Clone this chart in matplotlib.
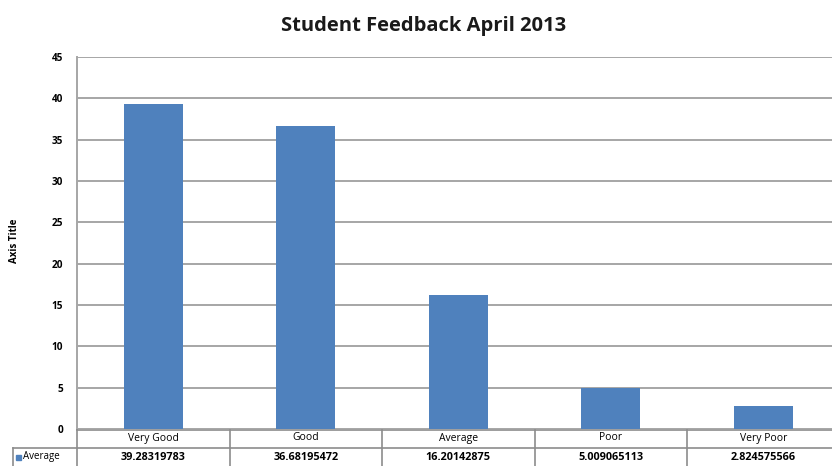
import matplotlib
matplotlib.use("Agg")
import matplotlib.pyplot as plt
from matplotlib.lines import Line2D
from matplotlib.patches import Rectangle
import matplotlib.transforms as mtransforms

categories = ["Very Good", "Good", "Average", "Poor", "Very Poor"]
values = [39.28319783, 36.68195472, 16.20142875, 5.009065113, 2.824575566]
value_labels = ["39.28319783", "36.68195472", "16.20142875", "5.009065113", "2.824575566"]
series_name = "Average"
yticks = [0, 5, 10, 15, 20, 25, 30, 35, 40, 45]

W, H = 832, 466
plt.rcParams['font.family'] = ['Open Sans', 'DejaVu Sans']
fig = plt.figure(figsize=(W / 100, H / 100), dpi=100)
fig.patch.set_facecolor("white")

def fy(px):
    return (H - px) / H

ax = fig.add_axes([77 / W, fy(429), (839.5 - 77) / W, fy(57) - fy(429)])
bar_color = "#4F81BD"
grid_color = "#A6A6A6"

x = list(range(len(categories)))
ax.bar(x, values, width=0.39, color=bar_color, zorder=3)
ax.set_xlim(-0.5, len(categories) - 0.5)
ax.set_ylim(0, 45)
ax.set_yticks(yticks)
ax.set_yticklabels([str(t) for t in yticks], fontsize=7.2, fontweight="bold")
ax.tick_params(axis="y", length=0, pad=10)
ax.set_xticks([])
ax.grid(axis="y", color=grid_color, linewidth=1.4, zorder=0)
for s in ["top", "right", "bottom"]:
    ax.spines[s].set_visible(False)
ax.spines["left"].set_color(grid_color)
ax.spines["left"].set_linewidth(1.4)

fig.text(424 / W, fy(26), "Student Feedback April 2013", ha="center", va="center",
         fontsize=14.5, fontweight="bold", color="#1a1a1a")
fig.text(15 / W, fy(241), "Axis Title", rotation=90, ha="center", va="center",
         fontsize=7, fontweight="bold")

# data table
blend = mtransforms.blended_transform_factory(ax.transData, fig.transFigure)
lw = 1.2
lc = "#8C8C8C"
row_top, row_mid, row_bot = fy(430), fy(448), fy(470)
xl, xr = -0.5, len(categories) - 0.5 + 0.05
fig.add_artist(Line2D([xl, xr], [row_top, row_top], transform=blend, color=lc, lw=lw))
fig.add_artist(Line2D([13 / W, 1.02], [row_mid, row_mid], transform=fig.transFigure, color=lc, lw=lw))
fig.add_artist(Line2D([13 / W, 13 / W], [row_mid, row_bot], transform=fig.transFigure, color=lc, lw=lw))
for i in range(len(categories) + 1):
    xb = i - 0.5
    fig.add_artist(Line2D([xb, xb], [row_top, row_bot], transform=blend, color=lc, lw=lw))
for i, (c, v) in enumerate(zip(categories, value_labels)):
    fig.text(i, fy(438), c, transform=blend, ha="center", va="center", fontsize=7.5)
    fig.text(i, fy(457), v, transform=blend, ha="center", va="center", fontsize=7.8, fontweight="bold")
fig.add_artist(Rectangle((16 / W, fy(460)), 5 / W, 5 / H, transform=fig.transFigure,
                         color=bar_color))
fig.text(23 / W, fy(456.5), series_name, ha="left", va="center", fontsize=7)

fig.savefig("out.png", dpi=100, facecolor="white")
